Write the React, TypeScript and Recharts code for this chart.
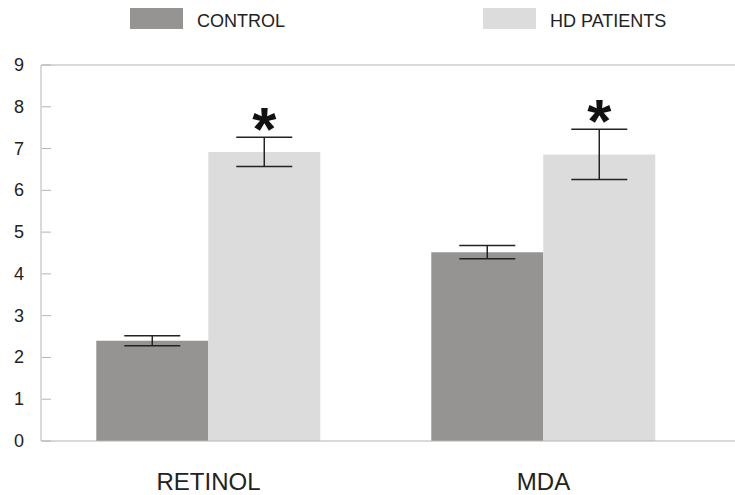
import { BarChart, Bar, XAxis, YAxis, ErrorBar, LabelList, ReferenceLine } from 'recharts'

const categories = ['RETINOL', 'MDA']
const controlValues = [2.4, 4.52]
const controlErrors = [0.12, 0.16]
const hdValues = [6.92, 6.86]
const hdErrors = [0.35, 0.6]
const significant = [true, true]
const yTicks = [0, 1, 2, 3, 4, 5, 6, 7, 8, 9]

const data = categories.map((name, i) => ({
  name,
  control: controlValues[i],
  controlErr: controlErrors[i],
  hd: hdValues[i],
  hdErr: hdErrors[i],
  star: significant[i] ? '*' : '',
}))

const FONT = 'Arial, "Liberation Sans", sans-serif'
const AXIS_GRAY = '#b4b4b4'
const CONTROL_COLOR = '#959492'
const HD_COLOR = '#dcdcdc'

function YTick(props: any) {
  const { x, y, payload } = props
  return (
    <g>
      <text x={x - 22} y={y} dy={6} textAnchor="middle" fontSize={18} fill="#222" fontFamily={FONT}>
        {payload.value}
      </text>
      <line x1={x + 1} x2={x + 10} y1={y} y2={y} stroke={AXIS_GRAY} strokeWidth={1} />
    </g>
  )
}

function Star(props: any) {
  const { x, y, width, height, value, index } = props
  if (!value) return null
  const err = hdErrors[index]
  const perUnit = height / hdValues[index]
  const top = y - err * perUnit
  return (
    <text x={x + width / 2} y={top + 13} textAnchor="middle" fontSize={62} fontWeight="bold" fill="#111" fontFamily={FONT}>
      {value}
    </text>
  )
}

function LegendBox() {
  const item = (color: string, label: string, left: number) => (
    <div style={{ position: 'absolute', left, top: 8, display: 'flex', alignItems: 'center', height: 21 }}>
      <div style={{ width: 53, height: 21, background: color }} />
      <span style={{ marginLeft: 14, marginTop: 5, fontSize: 18, fontFamily: FONT, color: '#222', whiteSpace: 'nowrap' }}>
        {label}
      </span>
    </div>
  )
  return (
    <>
      {item(CONTROL_COLOR, 'CONTROL', 130)}
      {item(HD_COLOR, 'HD PATIENTS', 483)}
    </>
  )
}

export default function App() {
  return (
    <div style={{ position: 'absolute', left: 0, top: 0, width: 735, height: 495, background: '#fff' }}>
      <BarChart
        width={735}
        height={495}
        data={data}
        margin={{ top: 65, right: 0, left: 0, bottom: 0 }}
        barCategoryGap="16.5%"
        barGap={0}
      >
        <XAxis
          dataKey="name"
          height={54}
          padding={{ left: 0, right: 24 }}
          axisLine={{ stroke: AXIS_GRAY }}
          tickLine={false}
          tick={{ fontSize: 24, fill: '#222', fontFamily: FONT, dy: 24 }}
        />
        <YAxis
          width={41}
          domain={[0, 9]}
          ticks={yTicks}
          interval={0}
          axisLine={{ stroke: AXIS_GRAY }}
          tickLine={false}
          tickSize={0}
          tickMargin={0}
          tick={<YTick />}
        />
        <ReferenceLine y={9} stroke={AXIS_GRAY} />
        <Bar dataKey="control" name="CONTROL" fill={CONTROL_COLOR} isAnimationActive={false}>
          <ErrorBar dataKey="controlErr" width={28} stroke="#222" strokeWidth={1.5} />
        </Bar>
        <Bar dataKey="hd" name="HD PATIENTS" fill={HD_COLOR} isAnimationActive={false}>
          <ErrorBar dataKey="hdErr" width={28} stroke="#222" strokeWidth={1.5} />
          <LabelList dataKey="star" content={<Star />} />
        </Bar>
      </BarChart>
      <LegendBox />
    </div>
  )
}
